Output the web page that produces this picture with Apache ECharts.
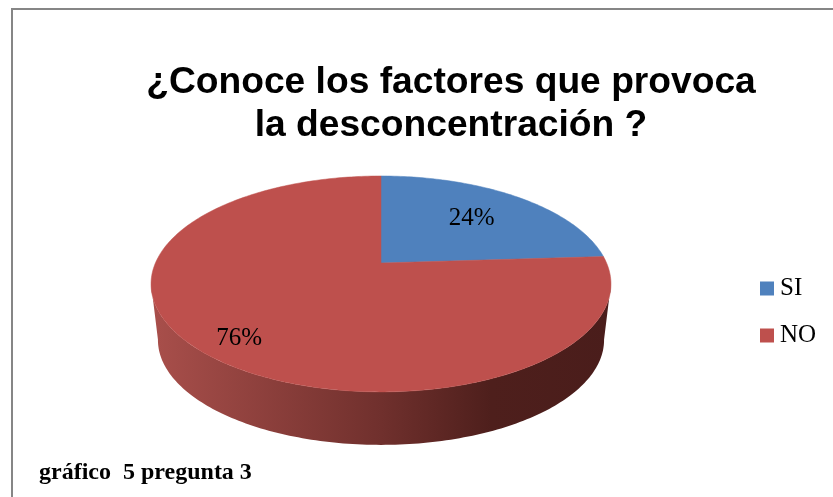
<!DOCTYPE html>
<html>
<head>
<meta charset="utf-8">
<style>html,body{margin:0;padding:0;background:#fff}#c{width:833px;height:497px}</style>
<script src="https://cdn.jsdelivr.net/npm/echarts@6/dist/echarts.min.js"></script>
</head>
<body>
<div id="c"></div>
<script>
const titleText = '¿Conoce los factores que provoca\nla desconcentración ?';
const captionText = 'gráfico  5 pregunta 3';
const categories = ['SI', 'NO'];
const shares = [24, 76];

const colors = ['#4f81bd', '#be504d'];
const labelRadius = [0.64, 0.84];
const labelAngleShift = [0, -2.2];
const P = {cx: 381, apexY: 263, b: 225.6, a: 103.9, k: 0.194,
           ellipseY: 284, lowerY: 340, xScale: 0.97, yScale: 0.972};
const total = shares.reduce((s, v) => s + v, 0);

function project(deg, r) {
  const t = deg * Math.PI / 180, u = r * Math.sin(t), v = r * Math.cos(t), d = 1 + P.k * v;
  return [P.cx + P.b * u / d, P.apexY - P.a * v / d];
}
function lower(p) {
  return [P.cx + (p[0] - P.cx) * P.xScale, P.lowerY + (p[1] - P.ellipseY) * P.yScale];
}
function arc(from, to) {
  const pts = [], n = Math.max(2, Math.ceil(Math.abs(to - from)));
  for (let i = 0; i <= n; i++) pts.push(project(from + (to - from) * i / n, 1));
  return pts;
}
const FRONT = [101, 259];

function renderSlice(index) {
  return function () {
    const before = shares.slice(0, index).reduce((s, v) => s + v, 0);
    const start = before / total * 360, end = (before + shares[index]) / total * 360;
    const children = [];
    const from = Math.max(start, FRONT[0]), to = Math.min(end, FRONT[1]);
    if (to > from) {
      const upper = arc(from, to);
      children.push({
        type: 'polygon',
        shape: {points: upper.concat(upper.map(lower).reverse())},
        style: {
          fill: {type: 'linear', x: 0, y: 0, x2: 1, y2: 0, colorStops: [
            {offset: 0, color: '#a94f4b'},
            {offset: 0.5, color: '#70302d'},
            {offset: 0.74, color: '#4e1f1c'},
            {offset: 1, color: '#4a1d1b'}
          ]}
        }
      });
    }
    children.push({
      type: 'polygon',
      shape: {points: [project(0, 0)].concat(arc(start, end))},
      style: {fill: colors[index], stroke: colors[index], lineWidth: 0.5}
    });
    const pos = project((start + end) / 2 + labelAngleShift[index], labelRadius[index]);
    children.push({
      type: 'text',
      style: {
        x: pos[0], y: pos[1], text: shares[index] + '%',
        fill: '#000', font: '25px "Liberation Serif"', align: 'center', verticalAlign: 'middle'
      }
    });
    return {type: 'group', children};
  };
}

const chart = echarts.init(document.getElementById('c'), null, {renderer: 'canvas'});
chart.setOption({
  animation: false,
  backgroundColor: '#fff',
  title: [
    {text: titleText, left: 446, top: 56, textAlign: 'center',
     textStyle: {fontFamily: 'Liberation Sans', fontWeight: 'bold', fontSize: 37.2, lineHeight: 43, color: '#000'}},
    {text: captionText, left: 34, top: 456,
     textStyle: {fontFamily: 'Liberation Serif', fontWeight: 'bold', fontSize: 24, color: '#000'}}
  ],
  legend: {
    orient: 'vertical', left: 755, top: 271, itemWidth: 14, itemHeight: 14, itemGap: 22,
    icon: 'rect', data: categories, selectedMode: false,
    textStyle: {fontFamily: 'Liberation Serif', fontSize: 25, lineHeight: 24, color: '#000', padding: [0, 0, 0, 1]}
  },
  graphic: [
    {type: 'polyline', silent: true,
     shape: {points: [[12, 497], [12, 9], [833, 9]]},
     style: {fill: null, stroke: '#868686', lineWidth: 2}}
  ],
  series: categories.map((name, i) => ({
    type: 'custom', name, coordinateSystem: 'none', silent: true,
    itemStyle: {color: colors[i]},
    data: [shares[i]],
    renderItem: renderSlice(i)
  }))
});
</script>
</body>
</html>
